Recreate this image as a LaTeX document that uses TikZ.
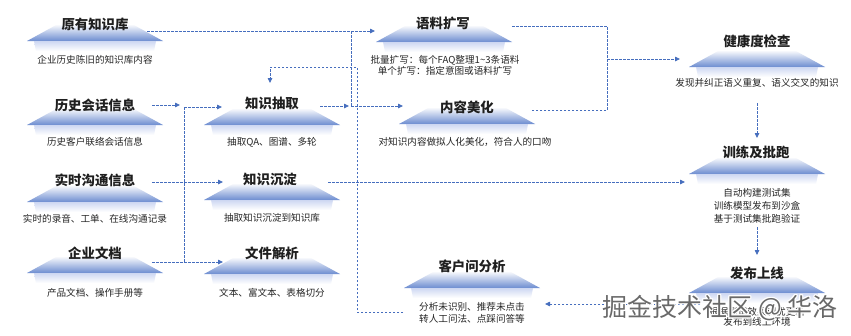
\documentclass[tikz,border=0pt]{standalone}
\usepackage{fontspec}
\setmainfont{Noto Sans CJK SC}
\usetikzlibrary{arrows.meta}
\definecolor{platblue}{RGB}{108,140,208}
\definecolor{platlight}{RGB}{205,215,242}
\definecolor{connc}{RGB}{70,110,190}
\definecolor{wmc}{RGB}{105,105,105}
\tikzset{
  ttl/.style={font=\fontsize{13.4}{16}\selectfont\bfseries, inner sep=0pt, text=black!88},
  dsc/.style={font=\fontsize{9.6}{12.5}\selectfont, inner sep=0pt, align=center, text=black!85},
  conn/.style={draw=connc, line width=0.8pt, dash pattern=on 2.5pt off 1.5pt},
  arr/.style={conn, -{Triangle[length=5pt,width=4.5pt]}},
  wmark/.style={font=\fontsize{25}{28}\selectfont, inner sep=0pt},
}
\newcommand{\plat}[2]{%
  \shade[top color=white, bottom color=platblue] (#1-37,#2-17) -- (#1+37,#2-17) -- (#1+68,#2) -- (#1-68,#2) -- cycle;
  \shade[top color=platlight, bottom color=white] (#1-61,#2) -- (#1+61,#2) -- (#1+59,#2+10) -- (#1-59,#2+10) -- cycle;
}
\begin{document}
\begin{tikzpicture}[x=1pt,y=-1pt]
\fill[white] (0,0) rectangle (851,335);
\useasboundingbox (0,0) rectangle (851,335);

% platforms
\plat{95}{41}
\plat{95}{125}
\plat{95}{202}
\plat{95}{273}
\plat{272}{125}
\plat{272}{200}
\plat{272}{274}
\plat{444}{42}
\plat{467}{124}
\plat{472}{288}
\plat{757}{67}
\plat{757}{174}
\plat{757}{293}

% titles
\node[ttl] (yy) at (95,24) {原有知识库};
\node[ttl] (ls) at (95,105) {历史会话信息};
\node[ttl] (ss) at (95,180) {实时沟通信息};
\node[ttl] (qy) at (95,253) {企业文档};
\node[ttl] (zs) at (272,103) {知识抽取};
\node[ttl] (cd) at (270,179) {知识沉淀};
\node[ttl] (wj) at (272,253) {文件解析};
\node[ttl] (ky) at (443,23) {语料扩写};
\node[ttl] (mh) at (467,107) {内容美化};
\node[ttl] (kh) at (472,266) {客户问分析};
\node[ttl] (jk) at (757,41) {健康度检查};
\node[ttl] (xl) at (756,152) {训练及批跑};
\node[ttl] (fb) at (757,273) {发布上线};

% descriptions
\node[dsc] (d-yy) at (95,60) {企业历史陈旧的知识库内容};
\node[dsc] (d-ls) at (95,142) {历史客户联络会话信息};
\node[dsc] (d-ss) at (95,219) {实时的录音、工单、在线沟通记录};
\node[dsc] (d-qy) at (95,293) {产品文档、操作手册等};
\node[dsc] (d-zs) at (272,142) {抽取QA、图谱、多轮};
\node[dsc] (d-cd) at (272,218) {抽取知识沉淀到知识库};
\node[dsc] (d-wj) at (272,293) {文本、富文本、表格切分};
\node[dsc, font=\fontsize{9.6}{11.5}\selectfont] (d-ky) at (445,65.5) {批量扩写：每个FAQ整理1\textasciitilde3条语料\\单个扩写：指定意图或语料扩写};
\node[dsc] (d-mh) at (465,142) {对知识内容做拟人化美化，符合人的口吻};
\node[dsc] (d-kh) at (472,313) {分析未识别、推荐未点击\\转人工问法、点踩问答等};
\node[dsc] (d-jk) at (757,83) {发现并纠正语义重复、语义交叉的知识};
\node[dsc, font=\fontsize{9.6}{13}\selectfont] (d-xl) at (757,206) {自动构建测试集\\训练模型发布到沙盒\\基于测试集批跑验证};
\node[dsc, font=\fontsize{9.6}{10.5}\selectfont] (d-fb) at (757,317) {根据测试效果调优更新\\发布到线上环境};

% connection points
\coordinate (yy-out) at (147,31);
\coordinate (ky-in) at (375,31);
\coordinate (tr-top) at (351,31);
\coordinate (tr-bot) at (351,106);
\coordinate (mh-in) at (403,106);
\coordinate (ls-out) at (152,105);
\coordinate (bus-top) at (184,107);
\coordinate (bus-mid) at (184,182);
\coordinate (bus-bot) at (184,262);
\coordinate (ss-out) at (152,182);
\coordinate (qy-out) at (152,262);
\coordinate (zs-in) at (222,107);
\coordinate (cd-in) at (223,182);
\coordinate (wj-in) at (223,262);
\coordinate (zs-out) at (320,106);
\coordinate (zs-top) at (270,83);
\coordinate (kh-out) at (403,312);
\coordinate (cd-out) at (328,182);
\coordinate (xl-in) at (685,182);
\coordinate (ky-out) at (512,26);
\coordinate (mh-out) at (532,110);
\coordinate (br-top) at (607,26);
\coordinate (br-bot) at (607,110);
\coordinate (br-mid) at (607,59);
\coordinate (jk-in) at (680,59);
\coordinate (jk-out) at (757,103);
\coordinate (xl-top) at (757,138);
\coordinate (xl-out) at (757,227);
\coordinate (fb-top) at (757,255);
\coordinate (fb-out) at (700,304);
\coordinate (kh-in) at (545,304);

% connectors
\draw[arr] (yy-out) -- (ky-in);
\draw[conn] (tr-top) -- (tr-bot);
\draw[arr] (tr-bot) -- (mh-in);
\draw[arr] (zs-out) -- (349,106);
\draw[arr] (ls-out) -- (180,105);
\draw[conn] (bus-top) -- (bus-bot);
\draw[conn] (ss-out) -- (bus-mid);
\draw[conn] (qy-out) -- (bus-bot);
\draw[arr] (bus-top) -- (zs-in);
\draw[arr] (bus-mid) -- (cd-in);
\draw[arr] (bus-bot) -- (wj-in);
\draw[arr] (kh-out) -- (357,312) -- (357,67) -- (270,67) -- (zs-top);
\draw[arr] (cd-out) -- (xl-in);
\draw[conn] (ky-out) -- (br-top) -- (br-bot) -- (mh-out);
\draw[arr] (br-mid) -- (jk-in);
\draw[arr] (jk-out) -- (xl-top);
\draw[arr] (xl-out) -- (fb-top);
\draw[arr] (fb-out) -- (kh-in);

% watermark
\foreach \dx/\dy in {-1/0,1/0,0/-1,0/1,-0.8/-0.8,0.8/0.8,-0.8/0.8,0.8/-0.8,-1.4/0,1.4/0,0/1.4,0/-1.4}
  \node[wmark, text=white] at (720+\dx,308+\dy) {掘金技术社区 @ 华洛};
\node[wmark, text=wmc] (wm) at (720,308) {掘金技术社区 @ 华洛};
\end{tikzpicture}
\end{document}
